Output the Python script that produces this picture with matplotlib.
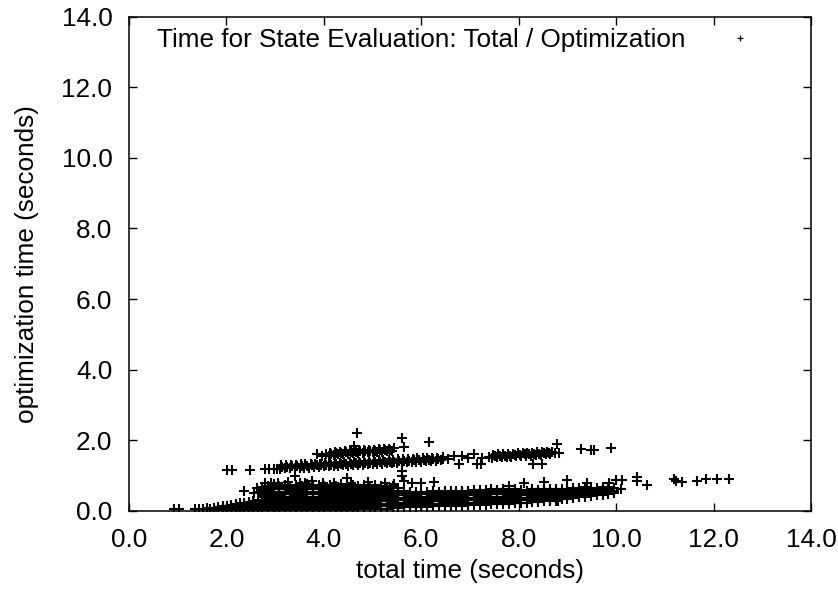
import matplotlib
matplotlib.use("Agg")
import matplotlib.pyplot as plt

plt.rcParams['font.family'] = ['Liberation Sans', 'DejaVu Sans']

# ---------------- data ----------------
series_label = "Time for State Evaluation: Total / Optimization"
x_ticks = [0, 2, 4, 6, 8, 10, 12, 14]
y_ticks = [0, 2, 4, 6, 8, 10, 12, 14]
x_label = "total time (seconds)"
y_label = "optimization time (seconds)"

# sparse tail near the origin
tail_x = [0.92, 1.02, 1.36, 1.44, 1.52, 1.60, 1.66]
tail_y = [0.06, 0.06, 0.05, 0.07, 0.06, 0.08, 0.07]

# thin wedge 1.7 - 2.7 s (column x, column y values)
wedge_cols = [
    (1.74, [0.03, 0.09]),
    (1.83, [0.04, 0.11]),
    (1.92, [0.03, 0.08, 0.13]),
    (2.01, [0.05, 0.10, 0.15]),
    (2.10, [0.03, 0.09, 0.13, 0.18]),
    (2.19, [0.04, 0.10, 0.15, 0.20]),
    (2.28, [0.03, 0.09, 0.14, 0.22]),
    (2.37, [0.05, 0.11, 0.17, 0.24]),
    (2.46, [0.04, 0.10, 0.16, 0.21, 0.26]),
    (2.55, [0.03, 0.09, 0.15, 0.22, 0.28]),
    (2.64, [0.05, 0.11, 0.18, 0.24, 0.31]),
]

# dense lower cluster 2.7 - 5.6 s
dense_a_cols = [
    (2.74, [0.04, 0.11, 0.18, 0.25, 0.32, 0.39, 0.46, 0.53, 0.60, 0.67]),
    (2.85, [0.06, 0.13, 0.21, 0.28, 0.35, 0.42, 0.49, 0.56, 0.63, 0.72]),
    (2.97, [0.04, 0.12, 0.19, 0.26, 0.33, 0.40, 0.47, 0.54, 0.61, 0.69, 0.76]),
    (3.08, [0.05, 0.13, 0.20, 0.27, 0.35, 0.42, 0.48, 0.55, 0.62, 0.70]),
    (3.20, [0.04, 0.11, 0.18, 0.25, 0.33, 0.40, 0.47, 0.54, 0.61, 0.68, 0.75]),
    (3.31, [0.06, 0.13, 0.21, 0.28, 0.35, 0.41, 0.49, 0.56, 0.64, 0.71]),
    (3.43, [0.04, 0.12, 0.19, 0.26, 0.32, 0.39, 0.46, 0.53, 0.60, 0.67, 0.74]),
    (3.55, [0.05, 0.14, 0.21, 0.28, 0.35, 0.43, 0.50, 0.57, 0.64, 0.72]),
    (3.66, [0.04, 0.11, 0.18, 0.25, 0.32, 0.40, 0.47, 0.54, 0.61, 0.68, 0.76]),
    (3.78, [0.06, 0.13, 0.20, 0.27, 0.34, 0.41, 0.48, 0.55, 0.63, 0.70]),
    (3.90, [0.04, 0.12, 0.19, 0.26, 0.33, 0.40, 0.47, 0.54, 0.61, 0.68, 0.75]),
    (4.01, [0.05, 0.13, 0.21, 0.28, 0.35, 0.42, 0.49, 0.57, 0.64, 0.71]),
    (4.13, [0.04, 0.11, 0.18, 0.25, 0.32, 0.39, 0.46, 0.53, 0.60, 0.67, 0.74]),
    (4.25, [0.06, 0.13, 0.20, 0.27, 0.35, 0.42, 0.49, 0.56, 0.63, 0.70]),
    (4.36, [0.04, 0.12, 0.19, 0.26, 0.33, 0.40, 0.47, 0.54, 0.61, 0.69, 0.77]),
    (4.48, [0.05, 0.13, 0.20, 0.28, 0.35, 0.42, 0.49, 0.56, 0.63, 0.71]),
    (4.60, [0.04, 0.11, 0.18, 0.25, 0.32, 0.39, 0.46, 0.53, 0.60, 0.67, 0.74]),
    (4.71, [0.06, 0.13, 0.21, 0.28, 0.35, 0.42, 0.49, 0.56, 0.63, 0.70]),
    (4.83, [0.05, 0.12, 0.19, 0.26, 0.33, 0.40, 0.47, 0.54, 0.61, 0.68, 0.75]),
    (4.95, [0.06, 0.13, 0.20, 0.27, 0.35, 0.42, 0.49, 0.56, 0.63, 0.71]),
    (5.06, [0.05, 0.12, 0.19, 0.26, 0.33, 0.40, 0.47, 0.54, 0.61, 0.68, 0.74]),
    (5.18, [0.07, 0.14, 0.21, 0.28, 0.35, 0.42, 0.49, 0.56, 0.63, 0.70]),
    (5.30, [0.06, 0.13, 0.20, 0.27, 0.34, 0.41, 0.48, 0.55, 0.62, 0.69]),
    (5.41, [0.08, 0.15, 0.22, 0.29, 0.36, 0.43, 0.50, 0.57, 0.64, 0.70]),
    (5.53, [0.09, 0.16, 0.23, 0.30, 0.37, 0.44, 0.51, 0.58, 0.65]),
]

# lower band 5.6 - 8.0 s
dense_b_cols = [
    (5.65, [0.10, 0.17, 0.24, 0.31, 0.38, 0.45, 0.52, 0.58]),
    (5.77, [0.12, 0.19, 0.26, 0.33, 0.40, 0.47, 0.54]),
    (5.89, [0.11, 0.18, 0.25, 0.32, 0.39, 0.46, 0.53]),
    (6.00, [0.13, 0.20, 0.27, 0.34, 0.41, 0.48, 0.55]),
    (6.12, [0.12, 0.19, 0.26, 0.33, 0.40, 0.47, 0.54]),
    (6.24, [0.14, 0.21, 0.28, 0.35, 0.42, 0.49, 0.56]),
    (6.36, [0.13, 0.20, 0.27, 0.34, 0.41, 0.48, 0.55]),
    (6.48, [0.15, 0.22, 0.29, 0.36, 0.43, 0.50, 0.57]),
    (6.60, [0.14, 0.21, 0.28, 0.35, 0.42, 0.49, 0.56]),
    (6.72, [0.16, 0.23, 0.30, 0.37, 0.44, 0.51, 0.58]),
    (6.84, [0.15, 0.22, 0.29, 0.36, 0.43, 0.50, 0.57]),
    (6.96, [0.17, 0.24, 0.31, 0.38, 0.45, 0.52, 0.58]),
    (7.08, [0.16, 0.23, 0.30, 0.37, 0.44, 0.51, 0.59]),
    (7.20, [0.18, 0.25, 0.32, 0.39, 0.46, 0.53, 0.60]),
    (7.32, [0.17, 0.24, 0.31, 0.38, 0.45, 0.52, 0.59]),
    (7.44, [0.19, 0.26, 0.33, 0.40, 0.47, 0.54, 0.61]),
    (7.56, [0.20, 0.27, 0.34, 0.41, 0.48, 0.55, 0.60]),
    (7.68, [0.19, 0.26, 0.33, 0.40, 0.47, 0.54, 0.62]),
    (7.80, [0.21, 0.28, 0.35, 0.42, 0.49, 0.56, 0.61]),
    (7.92, [0.22, 0.29, 0.36, 0.43, 0.50, 0.57, 0.63]),
]

# lower band 8.0 - 10.0 s
dense_c_cols = [
    (8.04, [0.24, 0.31, 0.38, 0.45, 0.52, 0.59]),
    (8.16, [0.23, 0.30, 0.37, 0.44, 0.51, 0.58]),
    (8.28, [0.26, 0.33, 0.40, 0.47, 0.54, 0.61]),
    (8.40, [0.25, 0.32, 0.39, 0.46, 0.53, 0.60]),
    (8.52, [0.28, 0.35, 0.42, 0.49, 0.56, 0.62]),
    (8.64, [0.27, 0.34, 0.41, 0.48, 0.55, 0.61]),
    (8.76, [0.29, 0.36, 0.43, 0.50, 0.57, 0.63]),
    (8.88, [0.33, 0.40, 0.47, 0.54, 0.61]),
    (9.00, [0.35, 0.42, 0.49, 0.56, 0.63]),
    (9.12, [0.37, 0.44, 0.51, 0.58, 0.64]),
    (9.24, [0.39, 0.46, 0.53, 0.60, 0.66]),
    (9.36, [0.40, 0.47, 0.54, 0.61, 0.67]),
    (9.48, [0.42, 0.49, 0.56, 0.63]),
    (9.60, [0.44, 0.51, 0.58, 0.65]),
    (9.72, [0.46, 0.53, 0.60, 0.67]),
    (9.84, [0.48, 0.55, 0.62, 0.68]),
    (9.96, [0.50, 0.57, 0.64]),
]

# top row of the lower cluster (0.5 - 0.8)
mid_x = [2.36, 2.57, 2.62, 2.68, 2.80, 2.92, 3.05, 3.26, 3.62, 3.98, 4.20,
         4.55, 4.90, 5.25, 5.45]
mid_y = [0.57, 0.52, 0.66, 0.55, 0.78, 0.80, 0.79, 0.82, 0.79, 0.80, 0.79,
         0.80, 0.81, 0.78, 0.76]

# long upper band 2.0 - 8.8 s (edges)
long_x = [2.02, 2.12, 2.48, 2.79, 2.87, 2.98, 3.03,
          3.10, 3.12, 3.20, 3.22, 3.30, 3.33, 3.40, 3.42, 3.50, 3.53,
          3.60, 3.62, 3.70, 3.73, 3.80, 3.82, 3.90, 3.93, 4.00, 4.02,
          4.10, 4.13, 4.20, 4.22, 4.30, 4.33, 4.40, 4.42, 4.50, 4.53,
          4.60, 4.62, 4.70, 4.73, 4.80, 4.83, 4.90, 4.93, 5.00, 5.02,
          5.10, 5.13, 5.20, 5.22, 5.30, 5.33, 5.40, 5.42, 5.50, 5.53,
          5.60, 5.63, 5.70, 5.72, 5.80, 5.83, 5.90, 5.92, 6.00, 6.03,
          6.10, 6.12, 6.20, 6.23, 6.30, 6.33, 6.40, 6.45, 6.55,
          6.67, 6.84, 6.95, 7.08, 7.25, 7.38,
          7.45, 7.48, 7.55, 7.58, 7.65, 7.68, 7.75, 7.78, 7.85, 7.88,
          7.95, 7.98, 8.05, 8.08, 8.15, 8.18, 8.25, 8.28, 8.35, 8.38,
          8.45, 8.48, 8.55, 8.58, 8.65, 8.68, 8.74]
long_y = [1.15, 1.15, 1.17, 1.19, 1.19, 1.20, 1.20,
          1.20, 1.29, 1.21, 1.30, 1.21, 1.31, 1.22, 1.31, 1.22, 1.32,
          1.23, 1.33, 1.23, 1.33, 1.24, 1.34, 1.25, 1.34, 1.26, 1.35,
          1.26, 1.36, 1.27, 1.36, 1.28, 1.37, 1.29, 1.38, 1.28, 1.39,
          1.30, 1.39, 1.31, 1.40, 1.30, 1.41, 1.32, 1.41, 1.33, 1.42,
          1.33, 1.43, 1.34, 1.44, 1.35, 1.44, 1.36, 1.45, 1.37, 1.46,
          1.36, 1.47, 1.38, 1.47, 1.39, 1.48, 1.39, 1.49, 1.40, 1.49,
          1.41, 1.50, 1.42, 1.51, 1.42, 1.51, 1.44, 1.52, 1.48,
          1.55, 1.55, 1.50, 1.61, 1.50, 1.53,
          1.51, 1.59, 1.52, 1.60, 1.53, 1.60, 1.54, 1.61, 1.54, 1.62,
          1.55, 1.63, 1.56, 1.64, 1.57, 1.64, 1.57, 1.65, 1.58, 1.66,
          1.59, 1.66, 1.60, 1.67, 1.61, 1.68, 1.64]

# long upper band (centre row)
long_mid_x = [3.15, 3.25, 3.35, 3.45, 3.55, 3.65, 3.75, 3.85, 3.95, 4.05,
              4.15, 4.25, 4.35, 4.45, 4.55, 4.65, 4.75, 4.85, 4.95, 5.05,
              5.15, 5.25, 5.35, 5.45, 5.55, 5.65, 5.75, 5.85, 5.95, 6.05,
              6.15, 6.25, 6.35, 6.45,
              7.52, 7.62, 7.72, 7.82, 7.92, 8.02, 8.12, 8.22, 8.32, 8.42,
              8.52, 8.62]
long_mid_y = [1.25, 1.25, 1.26, 1.27, 1.27, 1.28, 1.29, 1.29, 1.30, 1.31,
              1.31, 1.32, 1.33, 1.33, 1.34, 1.35, 1.35, 1.36, 1.37, 1.38,
              1.38, 1.39, 1.40, 1.40, 1.41, 1.42, 1.42, 1.43, 1.44, 1.45,
              1.45, 1.46, 1.47, 1.47,
              1.55, 1.56, 1.57, 1.57, 1.58, 1.59, 1.60, 1.60, 1.61, 1.62,
              1.63, 1.63]

# short upper band 3.8 - 5.5 s
short_x = [3.86, 3.96, 4.04, 4.10, 4.13, 4.20, 4.23, 4.30, 4.33, 4.40, 4.43,
           4.50, 4.53, 4.60, 4.63, 4.70, 4.73, 4.80, 4.83, 4.90, 4.93,
           5.00, 5.03, 5.10, 5.13, 5.20, 5.23, 5.30, 5.33, 5.40, 5.43,
           4.15, 4.25, 4.35, 4.45, 4.55, 4.65, 4.75, 4.85, 4.95, 5.05,
           5.15, 5.25, 5.35]
short_y = [1.60, 1.55, 1.61, 1.57, 1.65, 1.59, 1.66, 1.60, 1.68, 1.61, 1.69,
           1.62, 1.70, 1.63, 1.71, 1.64, 1.72, 1.65, 1.73, 1.66, 1.73,
           1.67, 1.74, 1.67, 1.75, 1.68, 1.76, 1.69, 1.76, 1.70, 1.77,
           1.62, 1.63, 1.64, 1.66, 1.67, 1.68, 1.69, 1.70, 1.70, 1.71,
           1.72, 1.73, 1.73]

# scattered points
scatter_x = [4.68, 5.61, 6.16, 4.62, 5.65,
             3.40, 3.52, 3.75, 4.47, 5.60, 5.61, 5.65, 5.81, 6.00, 6.26,
             6.77, 7.15, 7.22, 8.30, 8.48, 8.79, 8.82, 9.28, 9.48, 9.55, 9.90,
             7.80, 8.11, 8.52, 9.00, 9.40, 9.85, 10.00, 10.09, 10.13, 10.43,
             10.43, 10.64, 11.18, 11.22, 11.35, 11.66, 11.85, 12.08, 12.32,
             8.80]
scatter_y = [2.20, 2.08, 1.95, 1.83, 1.80,
             1.00, 0.80, 0.86, 0.94, 1.13, 0.99, 0.85, 0.80, 0.78, 0.82,
             1.32, 1.33, 1.33, 1.33, 1.34, 1.89, 1.65, 1.75, 1.72, 1.72, 1.77,
             0.70, 0.80, 0.82, 0.87, 0.80, 0.80, 0.87, 0.63, 0.88, 0.95,
             0.84, 0.74, 0.92, 0.84, 0.82, 0.84, 0.90, 0.90, 0.92,
             0.28]

# ---------------- assemble ----------------
xs, ys = [], []
for cols in (wedge_cols, dense_a_cols, dense_b_cols, dense_c_cols):
    for cx, cys in cols:
        for cy in cys:
            xs.append(cx)
            ys.append(cy)
for ax_, ay_ in ((tail_x, tail_y), (mid_x, mid_y), (long_x, long_y),
                 (long_mid_x, long_mid_y), (short_x, short_y),
                 (scatter_x, scatter_y)):
    xs.extend(ax_)
    ys.extend(ay_)

# ---------------- plot ----------------
FS = 18.8
fig = plt.figure(figsize=(8.38, 5.90), dpi=100)
ax = fig.add_axes([129 / 838, 1 - 511 / 590, 682 / 838, 494.5 / 590])

line, = ax.plot(xs, ys, linestyle='none', marker='+', markersize=7,
                markeredgewidth=1.5, color='black', label=series_label)

ax.set_xlim(0, 14)
ax.set_ylim(0, 14)
ax.set_xticks(x_ticks)
ax.set_yticks(y_ticks)
ax.set_xticklabels([f"{v:.1f}" for v in x_ticks])
ax.set_yticklabels([f"{v:.1f}" for v in y_ticks])
ax.tick_params(direction='in', length=6, width=1.0, top=True, right=True,
               labelsize=FS, colors='black')
ax.tick_params(axis='x', pad=12)
ax.tick_params(axis='y', pad=12)
for s in ax.spines.values():
    s.set_linewidth(1.1)

ax.set_xlabel(x_label, fontsize=FS, labelpad=5)
ax.set_ylabel(y_label, fontsize=FS, labelpad=16)

leg = ax.legend(handles=[line], loc='upper left',
                bbox_to_anchor=(28 / 682, 1 - 12 / 494.5),
                frameon=False, markerfirst=False, fontsize=FS,
                borderpad=0, borderaxespad=0, handlelength=1.0,
                handletextpad=1.6)
leg.legend_handles[0].set_markersize(5)
leg.legend_handles[0].set_markeredgewidth(0.9)

fig.savefig("out.png", dpi=100)
